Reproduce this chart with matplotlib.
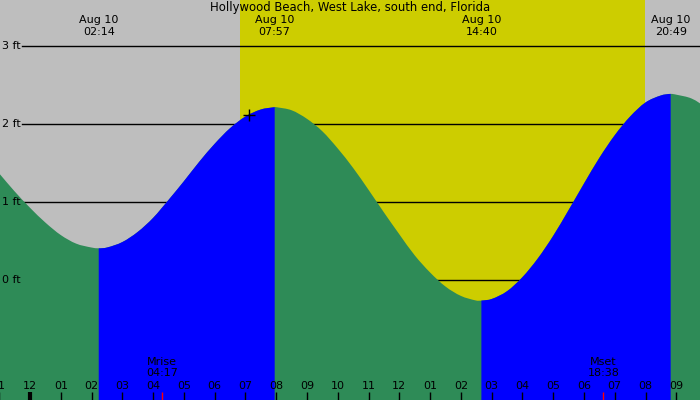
import matplotlib
matplotlib.use("Agg")
import matplotlib.pyplot as plt
import matplotlib.transforms as mtransforms
from matplotlib.path import Path
from matplotlib.patches import PathPatch

# ---- data ----
title = "Hollywood Beach, West Lake, south end, Florida"
# tide heights (ft) read at times (hours after midnight, Aug 10)
tide_hours = [-1, -0.5, 0, 0.5, 1, 1.5, 2, 2.2333, 2.5, 3, 3.5, 4, 4.5, 5, 5.5,
              6, 6.5, 7, 7.5, 7.95, 8, 8.5, 9, 9.5, 10, 10.5, 11, 11.5, 12,
              12.5, 13, 13.5, 14, 14.5, 14.6667, 15, 15.5, 16, 16.5, 17, 17.5,
              18, 18.5, 19, 19.5, 20, 20.5, 20.8167, 21, 21.5, 22]
tide_heights = [1.37, 1.14, 0.93, 0.74, 0.58, 0.47, 0.42, 0.41, 0.42, 0.49, 0.62,
                0.80, 1.03, 1.27, 1.52, 1.75, 1.95, 2.10, 2.19, 2.22, 2.22, 2.18,
                2.07, 1.91, 1.69, 1.44, 1.16, 0.87, 0.59, 0.32, 0.10, -0.08,
                -0.20, -0.26, -0.26, -0.24, -0.14, 0.04, 0.28, 0.57, 0.90, 1.24,
                1.57, 1.86, 2.10, 2.28, 2.37, 2.39, 2.38, 2.33, 2.21]
# extremes: label times and type
extreme_labels = ["02:14", "07:57", "14:40", "20:49"]
extreme_dates = ["Aug 10", "Aug 10", "Aug 10", "Aug 10"]
extreme_is_high = [False, True, False, True]
# sun
sunrise_hour = 6.82
sunset_hour = 19.99
# moon
moon_labels = ["Mrise", "Mset"]
moon_times = ["04:17", "18:38"]
# marker on curve
marker_hour = 7.12
marker_height = 2.12
# axis ticks
tick_hours = list(range(-1, 22))
tick_labels = ["11", "12", "01", "02", "03", "04", "05", "06", "07", "08", "09",
               "10", "11", "12", "01", "02", "03", "04", "05", "06", "07", "08",
               "09"]
level_values = [0, 1, 2, 3]
level_labels = ["0 ft", "1 ft", "2 ft", "3 ft"]

# ---- style ----
NIGHT = "#BEBEBE"
DAY = "#CDCD00"
FALL = "#2E8B57"
RISE = "#0000FF"
FS = 8


def hm(s):
    h, m = s.split(":")
    return int(h) + int(m) / 60.0


fig = plt.figure(figsize=(7, 4), dpi=100)
ax = fig.add_axes([0, 0, 1, 1])
ax.set_axis_off()
x0, x1 = -0.975, 21.77
y0, y1 = -1.535, 3.594
ax.set_xlim(x0, x1)
ax.set_ylim(y0, y1)

# background
ax.axvspan(x0, x1, color=NIGHT, lw=0, zorder=0)
ax.axvspan(sunrise_hour, sunset_hour, color=DAY, lw=0, zorder=0.5)

# level lines (under the tide fill)
for v in level_values:
    ax.axhline(v, xmin=22 / 700, xmax=1, color="black", lw=1.0, zorder=1)

# slopes at read points for smooth (Bezier) drawing of the curve
n = len(tide_hours)
slopes = []
for i in range(n):
    a = max(i - 1, 0)
    b = min(i + 1, n - 1)
    slopes.append((tide_heights[b] - tide_heights[a]) /
                  (tide_hours[b] - tide_hours[a]))

bottom = y0 - 1


def tide_path(i0, i1):
    verts = [(tide_hours[i0], bottom), (tide_hours[i0], tide_heights[i0])]
    codes = [Path.MOVETO, Path.LINETO]
    for i in range(i0, i1):
        dt = tide_hours[i + 1] - tide_hours[i]
        verts += [(tide_hours[i] + dt / 3, tide_heights[i] + slopes[i] * dt / 3),
                  (tide_hours[i + 1] - dt / 3,
                   tide_heights[i + 1] - slopes[i + 1] * dt / 3),
                  (tide_hours[i + 1], tide_heights[i + 1])]
        codes += [Path.CURVE4] * 3
    verts += [(tide_hours[i1], bottom), (tide_hours[i0], bottom)]
    codes += [Path.LINETO, Path.CLOSEPOLY]
    return Path(verts, codes)


ext_hours = [hm(s) for s in extreme_labels]
ext_idx = [min(range(n), key=lambda k: abs(tide_hours[k] - e)) for e in ext_hours]

# whole curve in the falling colour, rising parts painted on top
ax.add_patch(PathPatch(tide_path(0, n - 1), facecolor=FALL, edgecolor="none",
                       lw=0, zorder=2))
split_idx = [0] + ext_idx + [n - 1]
for s in range(len(split_idx) - 1):
    if s < len(ext_hours):
        rising = extreme_is_high[s]
    else:
        rising = not extreme_is_high[-1]
    if rising:
        ax.add_patch(PathPatch(tide_path(split_idx[s], split_idx[s + 1]),
                               facecolor=RISE, edgecolor="none", lw=0,
                               zorder=2.5))

# level labels
tr_ay = mtransforms.blended_transform_factory(ax.transAxes, ax.transData)
for v, lab in zip(level_values, level_labels):
    ax.text(20.5 / 700, v, lab, transform=tr_ay, ha="right", va="center",
            fontsize=FS, zorder=5)

# marker
ax.plot([marker_hour], [marker_height], marker="+", color="black",
        ms=8, mew=1.0, zorder=5)

tr_xa = mtransforms.blended_transform_factory(ax.transData, ax.transAxes)

# title
ax.text(0.5, 1 - 7.3 / 400, title, transform=ax.transAxes, ha="center",
        va="center", fontsize=8.4, zorder=6)

# extreme labels
for d, s in zip(extreme_dates, extreme_labels):
    t = hm(s)
    ax.text(t, 1 - 19.7 / 400, d, transform=tr_xa, ha="center", va="center",
            fontsize=FS, zorder=6)
    ax.text(t, 1 - 31.7 / 400, s, transform=tr_xa, ha="center", va="center",
            fontsize=FS, zorder=6)

# bottom ticks
for h, lab in zip(tick_hours, tick_labels):
    lw = 3 if h % 24 == 0 else 1
    ax.plot([h, h], [0, 8.3 / 400], transform=tr_xa, color="black", lw=lw,
            solid_capstyle="butt", zorder=6)
    ax.text(h, 14.3 / 400, lab, transform=tr_xa, ha="center", va="center",
            fontsize=FS, zorder=6)

# moon labels and ticks
for name, s in zip(moon_labels, moon_times):
    t = hm(s)
    ax.text(t, 38.3 / 400, name, transform=tr_xa, ha="center", va="center",
            fontsize=FS, zorder=6)
    ax.text(t, 26.7 / 400, s, transform=tr_xa, ha="center", va="center",
            fontsize=FS, zorder=6)
    ax.plot([t, t], [0, 8.3 / 400], transform=tr_xa, color="red", lw=1,
            solid_capstyle="butt", zorder=6)

fig.savefig("out.png", dpi=100)
